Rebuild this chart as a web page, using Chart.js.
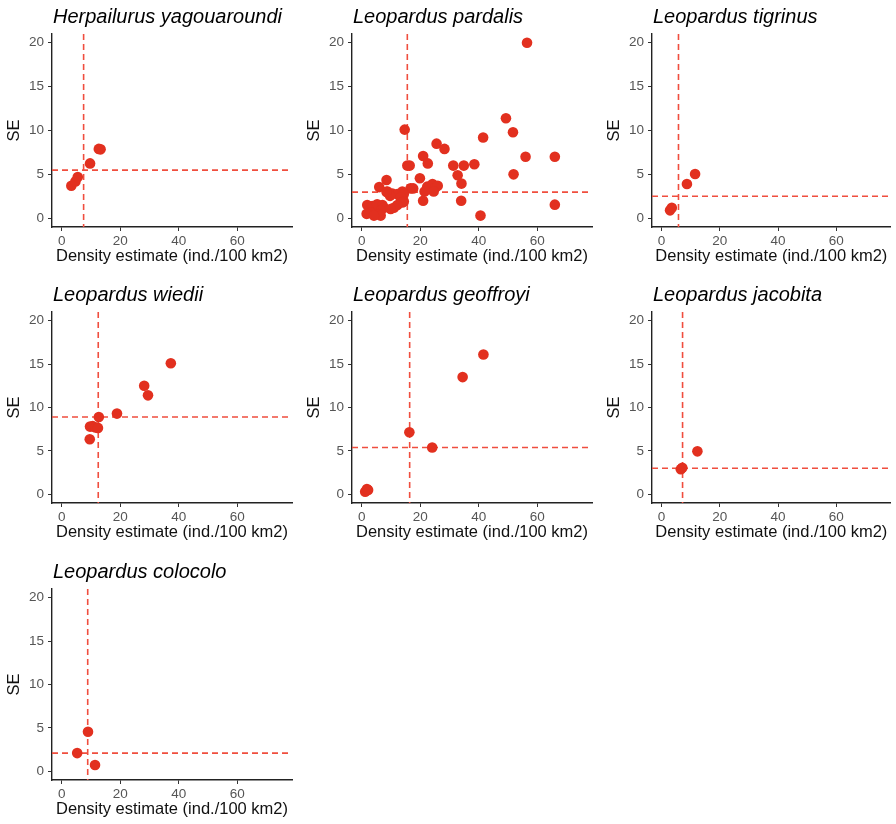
<!DOCTYPE html>
<html>
<head>
<meta charset="utf-8">
<script src="https://cdn.jsdelivr.net/npm/chart.js@4"></script>
<style>
html,body{margin:0;padding:0;background:#fff;overflow:hidden;width:896px;height:824px;}
.panel{position:absolute;}
canvas{display:block;}
</style>
</head>
<body>
<script>
// ---------------- data ----------------
const speciesNames = [
  "Herpailurus yagouaroundi", "Leopardus pardalis", "Leopardus tigrinus",
  "Leopardus wiedii", "Leopardus geoffroyi", "Leopardus jacobita", "Leopardus colocolo"
];
const xTicks = [0, 20, 40, 60];
const yTicks = [0, 5, 10, 15, 20];
const xTitle = "Density estimate (ind./100 km2)";
const yTitle = "SE";

const yagouaroundiX = [3.3, 4.7, 5.5, 9.7, 12.7, 13.3];
const yagouaroundiY = [3.7, 4.2, 4.7, 6.25, 7.9, 7.85];

const pardalisX = [56.5, 49.3, 51.7, 41.5, 14.7, 25.6, 28.3, 21.0, 22.6, 15.6, 16.4, 31.3, 34.9, 38.5,
  56.0, 66.0, 51.9, 32.8, 34.1, 19.9, 8.5, 6.0, 16.7, 17.6, 22.4, 24.2, 25.1, 26.0, 24.6, 21.5,
  21.0, 34.0, 40.6, 66.0, 8.8, 10.5, 12.2, 13.9, 14.4, 9.7, 13.3, 14.4, 13.9, 1.9, 3.6, 5.3,
  7.1, 7.6, 6.5, 4.8, 3.1, 1.7, 5.9, 11.0, 12.2, 9.9, 6.5, 4.2, 8.5];
const pardalisY = [20.0, 11.4, 9.8, 9.2, 10.1, 8.5, 7.9, 7.1, 6.25, 6.0, 6.0, 6.0, 6.0, 6.15,
  7.0, 7.0, 5.0, 4.9, 3.95, 4.55, 4.35, 3.55, 3.4, 3.4, 3.6, 3.9, 3.45, 3.7, 3.05, 3.05,
  2.0, 2.0, 0.3, 1.55, 3.05, 2.8, 2.75, 3.05, 2.75, 2.55, 2.35, 1.9, 1.8, 1.5, 1.4, 1.6,
  1.5, 1.2, 0.85, 0.55, 0.65, 0.5, 0.45, 1.2, 1.5, 1.05, 0.3, 0.3, 3.0];

const tigrinusX = [2.9, 3.5, 8.7, 11.5];
const tigrinusY = [0.9, 1.2, 3.9, 5.05];

const wiediiX = [9.6, 9.7, 10.6, 11.6, 12.4, 12.7, 18.9, 28.2, 29.5, 37.3];
const wiediiY = [6.35, 7.8, 7.85, 7.7, 7.65, 8.9, 9.3, 12.5, 11.4, 15.1];

const geoffroyiX = [1.2, 1.8, 2.2, 16.3, 24.1, 34.5, 41.6];
const geoffroyiY = [0.3, 0.6, 0.5, 7.15, 5.4, 13.5, 16.1];

const jacobitaX = [6.6, 7.1, 12.3];
const jacobitaY = [2.9, 3.05, 4.95];

const colocoloX = [5.3, 9.0, 11.4];
const colocoloY = [2.1, 4.55, 0.72];

// reference lines (vertical at density, horizontal at SE), one per species
const vlineX = [7.5, 15.6, 5.8, 12.5, 16.4, 7.2, 8.9];
const hlineY = [5.48, 2.97, 2.5, 8.9, 5.4, 3.0, 2.1];

const allX = [yagouaroundiX, pardalisX, tigrinusX, wiediiX, geoffroyiX, jacobitaX, colocoloX];
const allY = [yagouaroundiY, pardalisY, tigrinusY, wiediiY, geoffroyiY, jacobitaY, colocoloY];

// ---------------- layout / style ----------------
Chart.defaults.font.family = "'Liberation Sans', Arial, Helvetica, sans-serif";
const POINT = '#E2301F';
const LINE = '#F04E3E';
const colLeft = [0, 300, 600];
const colWidth = [300, 300, 296];
const rowTop = [0, 278, 555];
const rowHeight = [270, 268, 268];

const refLines = {
  id: 'refLines',
  beforeDatasetsDraw(chart, args, opts) {
    const {ctx, chartArea: a, scales: {x, y}} = chart;
    ctx.save();
    ctx.strokeStyle = LINE;
    ctx.lineWidth = 1.6;
    ctx.setLineDash([6, 4]);
    const px = x.getPixelForValue(opts.vx);
    const py = y.getPixelForValue(opts.hy);
    ctx.beginPath();
    ctx.moveTo(px, a.top); ctx.lineTo(px, a.bottom);
    ctx.moveTo(a.left, py); ctx.lineTo(a.right, py);
    ctx.stroke();
    ctx.restore();
  }
};
const panelTitle = {
  id: 'panelTitle',
  afterDraw(chart, args, opts) {
    const {ctx, chartArea: a} = chart;
    ctx.save();
    ctx.font = "italic 20px 'Liberation Sans', Arial, sans-serif";
    ctx.fillStyle = '#000';
    ctx.textAlign = 'left';
    ctx.textBaseline = 'alphabetic';
    ctx.fillText(opts.text, a.left + 1, a.top - 11);
    ctx.restore();
  }
};

speciesNames.forEach((name, i) => {
  const r = Math.floor(i / 3), c = i % 3;
  const w = colWidth[c], h = rowHeight[r];
  const div = document.createElement('div');
  div.className = 'panel';
  div.style.left = colLeft[c] + 'px';
  div.style.top = rowTop[r] + 'px';
  div.style.width = w + 'px';
  div.style.height = h + 'px';
  const cv = document.createElement('canvas');
  cv.width = w; cv.height = h;
  div.appendChild(cv);
  document.body.appendChild(div);

  const pts = allX[i].map((x, k) => ({x: x, y: allY[i][k]}));
  new Chart(cv, {
    type: 'scatter',
    data: {datasets: [{
      data: pts,
      backgroundColor: POINT,
      borderColor: POINT,
      borderWidth: 0,
      pointRadius: 5.3,
      pointHoverRadius: 5.3
    }]},
    options: {
      responsive: false,
      devicePixelRatio: 1,
      animation: false,
      events: [],
      layout: {padding: {top: 34, right: w - 292, left: 0, bottom: 0}},
      plugins: {
        legend: {display: false},
        tooltip: {enabled: false},
        refLines: {vx: vlineX[i], hy: hlineY[i]},
        panelTitle: {text: name}
      },
      scales: {
        x: {
          type: 'linear', min: -3.3, max: 78.7,
          afterBuildTicks: s => { s.ticks = xTicks.map(v => ({value: v})); },
          afterFit: s => { s.height = 43; },
          ticks: {color: '#555', font: {size: 13.5}, padding: 2.5, maxRotation: 0, autoSkip: false},
          grid: {drawOnChartArea: false, drawTicks: true, tickLength: 4, color: '#333', lineWidth: 1},
          border: {display: true, color: '#222', width: 1.4},
          title: {display: true, text: xTitle, color: '#111', font: {size: 16.5, lineHeight: 1.2}, padding: {top: 0, bottom: 4}}
        },
        y: {
          type: 'linear', min: -1, max: 21,
          afterBuildTicks: s => { s.ticks = yTicks.map(v => ({value: v})); },
          afterFit: s => { s.width = 52; },
          ticks: {color: '#555', font: {size: 13.5}, padding: 4},
          grid: {drawOnChartArea: false, drawTicks: true, tickLength: 4, color: '#333', lineWidth: 1},
          border: {display: true, color: '#222', width: 1.4},
          title: {display: true, text: yTitle, color: '#111', font: {size: 16.5, lineHeight: 1.2}, padding: {top: 5, bottom: 0}}
        }
      }
    },
    plugins: [refLines, panelTitle]
  });
});
</script>
</body>
</html>
